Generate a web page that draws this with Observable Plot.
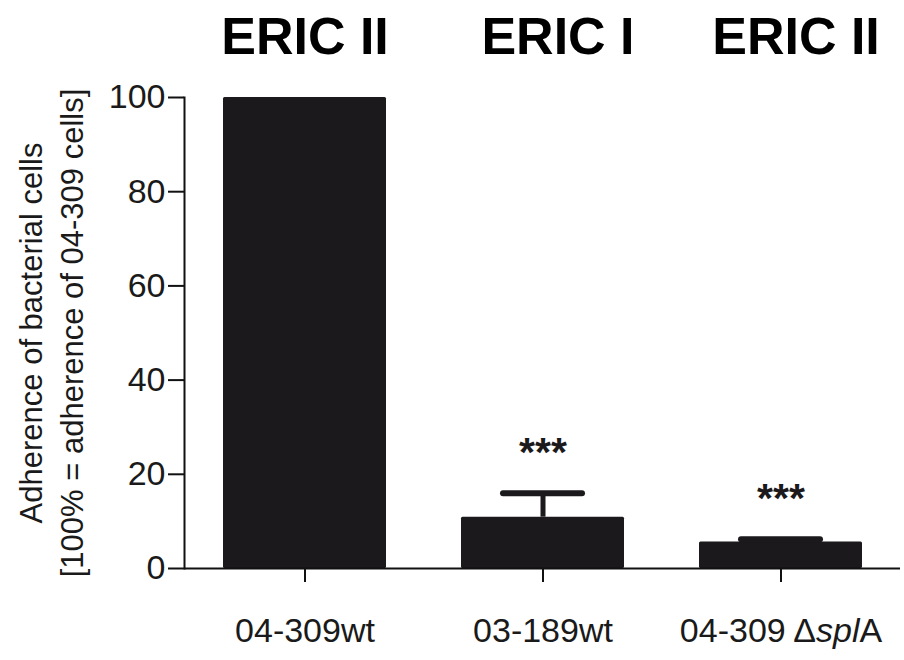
<!DOCTYPE html>
<html>
<head>
<meta charset="utf-8">
<script src="https://cdn.jsdelivr.net/npm/d3@7"></script>
<script src="https://cdn.jsdelivr.net/npm/@observablehq/plot@0.6"></script>
<style>
  html, body { margin: 0; padding: 0; background: #fff; }
  #chart { width: 904px; height: 660px; }
  svg { font-family: "Liberation Sans", Arial, sans-serif; }
</style>
</head>
<body>
<div id="chart"></div>
<script>
const categories = ["04-309wt", "03-189wt", "04-309 ΔsplA"];
const values = [100, 10.9, 5.6];
const errorsUp = [0, 5.1, 0.6];
const stars = ["", "***", "***"];
const groupTitles = ["ERIC II", "ERIC I", "ERIC II"];
const yTicks = [0, 20, 40, 60, 80, 100];
const yLabel = "Adherence of bacterial cells\n[100% = adherence of 04-309 cells]";

const data = categories.map((c, i) => ({
  cat: c, value: values[i], err: errorsUp[i], top: values[i] + errorsUp[i],
  star: stars[i], title: groupTitles[i]
}));
const withErr = data.filter(d => d.err > 0);
const ink = "#1b191b";

const plot = Plot.plot({
  width: 904,
  height: 660,
  marginLeft: 184,
  marginRight: 4,
  marginTop: 97,
  marginBottom: 92,
  style: { fontFamily: "Liberation Sans, Arial, sans-serif", color: "#1a1a1a", background: "#fff" },
  x: { domain: categories, paddingInner: 0.317, paddingOuter: 0.16, label: null },
  y: { domain: [0, 100], label: null },
  marks: [
    Plot.barY(data, { x: "cat", y: "value", fill: ink, rx: 1.5 }),
    Plot.ruleX(withErr, { x: "cat", y1: "value", y2: "top", stroke: ink, strokeWidth: 5 }),
    Plot.tickY(withErr, { x: "cat", y: "top", stroke: ink, strokeWidth: 6, strokeLinecap: "round", insetLeft: 42, insetRight: 42 }),
    Plot.text(data.filter(d => d.star), { x: "cat", y: "top", text: "star", dy: -40, fontSize: 41, fontWeight: "bold", fill: ink }),
    Plot.ruleY([0], { stroke: "#111", strokeWidth: 2 }),
    Plot.frame({ anchor: "left", stroke: "#111", strokeWidth: 2 }),
    Plot.axisY({ ticks: yTicks, tickSize: 16, tickPadding: 3, fontSize: 34, strokeWidth: 2, stroke: "#111", label: null }),
    Plot.axisX({ tickSize: 14, tickPadding: 35, fontSize: 34, strokeWidth: 2, stroke: "#111", label: null }),
    Plot.text(data.filter((d, i) => i === 0), { x: "cat", text: "title", frameAnchor: "top", dy: -80, fontSize: 52, fontWeight: "bold", fill: "#000" }),
    Plot.text(data.filter((d, i) => i > 0), { x: "cat", text: "title", frameAnchor: "top", dy: -80, dx: 15, fontSize: 52, fontWeight: "bold", fill: "#000" }),
    Plot.text([yLabel], { text: d => d, frameAnchor: "left", textAnchor: "middle", rotate: -90, dx: -135, fontSize: 31, lineHeight: 1.3, fill: "#1a1a1a" })
  ]
});

plot.querySelectorAll("text").forEach(t => {
  if (t.textContent === "04-309 ΔsplA") {
    t.innerHTML = "04-309 Δ<tspan font-style=\"italic\">spl</tspan>A";
  }
});
document.getElementById("chart").appendChild(plot);
</script>
</body>
</html>
